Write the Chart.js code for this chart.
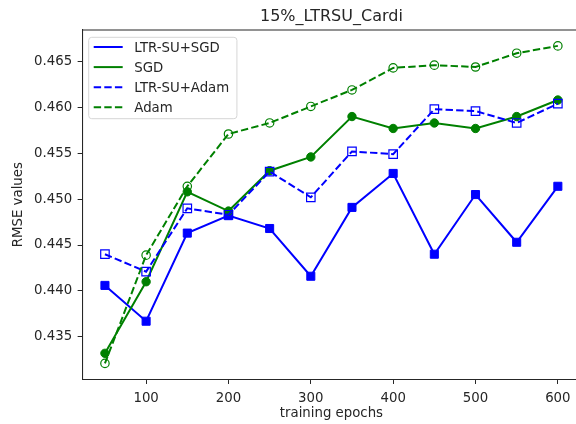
<!DOCTYPE html>
<html>
<head>
<meta charset="utf-8">
<script src="https://cdn.jsdelivr.net/npm/chart.js@4/dist/chart.umd.min.js"></script>
<style>
  html, body { margin: 0; padding: 0; overflow: hidden; background: #fff; }
  #wrap { width: 576px; height: 424px; overflow: hidden; position: relative; }
  #wrap canvas { position: absolute; left: 0; top: 0; }
</style>
</head>
<body>
<div id="wrap"><canvas id="c" width="600" height="424"></canvas></div>
<script>
// Training epochs and RMSE per optimiser
const epochs = [50, 100, 150, 200, 250, 300, 350, 400, 450, 500, 550, 600];
const ltrsuSgd  = [0.4406, 0.4367, 0.4463, 0.4482, 0.4468, 0.4416, 0.4491, 0.4528, 0.4440, 0.4505, 0.4453, 0.4514];
const sgd       = [0.4332, 0.4410, 0.4508, 0.4487, 0.4531, 0.4546, 0.4590, 0.4577, 0.4583, 0.4577, 0.4590, 0.4608];
const ltrsuAdam = [0.4440, 0.4421, 0.4490, 0.4483, 0.4530, 0.4502, 0.4552, 0.4549, 0.4598, 0.4596, 0.4583, 0.4604];
const adam      = [0.4321, 0.4439, 0.4514, 0.4571, 0.4583, 0.4601, 0.4619, 0.4643, 0.4646, 0.4644, 0.4659, 0.4667];

const seriesNames = ['LTR-SU+SGD', 'SGD', 'LTR-SU+Adam', 'Adam'];
const xTickValues = [100, 200, 300, 400, 500, 600];
const yTickValues = [0.435, 0.440, 0.445, 0.450, 0.455, 0.460, 0.465];

const FONT = 'DejaVu Sans';
const INK = '#262626';
const BLUE = '#0000ff';
const GREEN = '#008000';
const DASH = [7.4, 3.2];

Chart.defaults.font.family = FONT;
Chart.defaults.font.size = 13.3;
Chart.defaults.color = INK;

const toPoints = vals => epochs.map((e, i) => ({ x: e, y: vals[i] }));

// 5% margins around the data, like the usual autoscaling
const allVals = [].concat(ltrsuSgd, sgd, ltrsuAdam, adam);
const yLo = Math.min(...allVals), yHi = Math.max(...allVals);
const yPad = (yHi - yLo) * 0.05;
const xLo = Math.min(...epochs), xHi = Math.max(...epochs);
const xPad = (xHi - xLo) * 0.05;

// Top edge of the axes box (its right edge falls outside the visible page)
const frame = {
  id: 'frame',
  afterDraw(chart) {
    const { ctx, chartArea: a } = chart;
    ctx.save();
    ctx.strokeStyle = INK;
    ctx.lineWidth = 1.07;
    ctx.beginPath();
    ctx.moveTo(a.left, a.top);
    ctx.lineTo(chart.width, a.top);
    ctx.stroke();
    ctx.restore();
  }
};

// Boxed legend in the upper-left corner of the plot area
const legendBox = {
  id: 'legendBox',
  afterDatasetsDraw(chart) {
    const { ctx, chartArea: a } = chart;
    const ds = chart.data.datasets;
    const fs = 13.3;
    ctx.save();
    ctx.font = fs + 'px ' + FONT;
    const textW = Math.max(...ds.map(d => ctx.measureText(d.label).width));
    const x0 = a.left + 6.4, y0 = a.top + 7.3;
    const handleX = x0 + 5, handleLen = 29, textX = x0 + 45.6;
    const rowH = 20.1, firstRow = 9.7;
    const w = textX - x0 + textW + 7.7;
    const h = firstRow + rowH * (ds.length - 1) + 11.4;
    ctx.beginPath();
    ctx.roundRect(x0, y0, w, h, 3);
    ctx.fillStyle = 'rgba(255,255,255,0.8)';
    ctx.fill();
    ctx.strokeStyle = '#d6d6d6';
    ctx.lineWidth = 1;
    ctx.stroke();
    ds.forEach((d, i) => {
      const cy = y0 + firstRow + i * rowH;
      ctx.beginPath();
      ctx.setLineDash(d.borderDash || []);
      ctx.strokeStyle = d.borderColor;
      ctx.lineWidth = d.borderWidth;
      ctx.moveTo(handleX, cy);
      ctx.lineTo(handleX + handleLen, cy);
      ctx.stroke();
      ctx.setLineDash([]);
      ctx.fillStyle = INK;
      ctx.textBaseline = 'alphabetic';
      ctx.textAlign = 'left';
      ctx.fillText(d.label, textX, cy + 0.729 * fs / 2);
    });
    ctx.beginPath();
    ctx.restore();
  }
};

const baseAxis = {
  grid: { drawOnChartArea: false, drawTicks: true, tickLength: 4.67, tickWidth: 1, color: INK },
  border: { display: true, color: INK, width: 1.07 }
};

new Chart(document.getElementById('c'), {
  type: 'line',
  data: {
    datasets: [
      {
        label: seriesNames[0], data: toPoints(ltrsuSgd), order: 4,
        borderColor: BLUE, backgroundColor: BLUE, borderWidth: 2,
        pointStyle: 'rect', pointRadius: 5.7, pointBorderWidth: 1,
        pointBackgroundColor: BLUE, pointBorderColor: BLUE
      },
      {
        label: seriesNames[1], data: toPoints(sgd), order: 3,
        borderColor: GREEN, backgroundColor: GREEN, borderWidth: 2,
        pointStyle: 'circle', pointRadius: 4.2, pointBorderWidth: 1,
        pointBackgroundColor: GREEN, pointBorderColor: GREEN
      },
      {
        label: seriesNames[2], data: toPoints(ltrsuAdam), order: 2,
        borderColor: BLUE, backgroundColor: 'rgba(0,0,0,0)', borderWidth: 2, borderDash: DASH,
        pointStyle: 'rect', pointRadius: 6, pointBorderWidth: 1.2,
        pointBackgroundColor: 'rgba(0,0,0,0)', pointBorderColor: BLUE
      },
      {
        label: seriesNames[3], data: toPoints(adam), order: 1,
        borderColor: GREEN, backgroundColor: 'rgba(0,0,0,0)', borderWidth: 2, borderDash: DASH,
        pointStyle: 'circle', pointRadius: 4.2, pointBorderWidth: 1.2,
        pointBackgroundColor: 'rgba(0,0,0,0)', pointBorderColor: GREEN
      }
    ]
  },
  options: {
    responsive: false,
    animation: false,
    devicePixelRatio: 1,
    layout: { padding: { left: 0, right: 19.5, top: 0, bottom: 0 } },
    plugins: {
      legend: { display: false },
      tooltip: { enabled: false },
      title: {
        display: true, text: '15%_LTRSU_Cardi', fullSize: false,
        color: INK, font: { family: FONT, size: 16, weight: 'normal', lineHeight: 1.2 },
        padding: { top: 7.2, bottom: 3.6 }
      }
    },
    scales: {
      x: {
        ...baseAxis,
        type: 'linear', min: xLo - xPad, max: xHi + xPad,
        afterFit: s => { s.height = 44.7; },
        afterBuildTicks: s => { s.ticks = xTickValues.map(v => ({ value: v })); },
        ticks: { autoSkip: false, maxRotation: 0, padding: 6.5, color: INK, callback: v => String(v) },
        title: { display: true, text: 'training epochs', color: INK, padding: { top: 0, bottom: 2 } }
      },
      y: {
        ...baseAxis,
        type: 'linear', min: yLo - yPad, max: yHi + yPad,
        afterFit: s => { s.width = 82.3; },
        afterBuildTicks: s => { s.ticks = yTickValues.map(v => ({ value: v })); },
        ticks: { autoSkip: false, padding: 5.5, color: INK, callback: v => Number(v).toFixed(3) },
        title: { display: true, text: 'RMSE values', color: INK, padding: { top: 11, bottom: 0 } }
      }
    }
  },
  plugins: [frame, legendBox]
});
</script>
</body>
</html>
